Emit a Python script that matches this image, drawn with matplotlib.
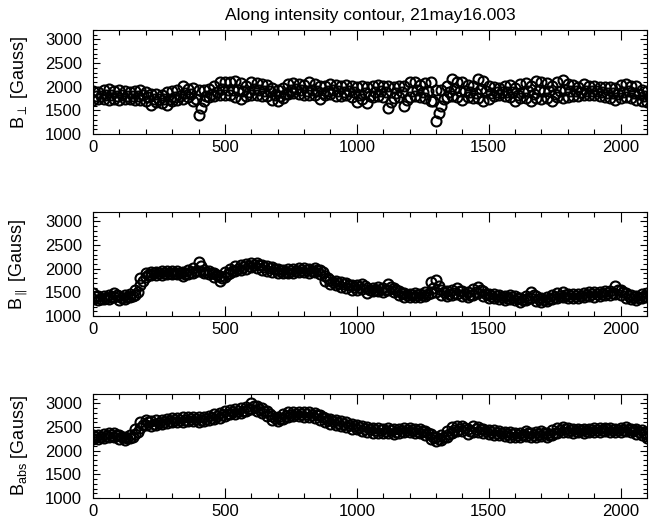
import numpy as np
import matplotlib
matplotlib.use("Agg")
import matplotlib.pyplot as plt
from matplotlib.ticker import MultipleLocator

plt.rcParams['font.family'] = ['Liberation Sans', 'DejaVu Sans']
plt.rcParams['mathtext.fontset'] = 'custom'
plt.rcParams['mathtext.rm'] = 'Liberation Sans'
plt.rcParams['mathtext.it'] = 'Liberation Sans'

title = "Along intensity contour, 21may16.003"
ylabels = [r'B$_{\perp}$ [Gauss]', r'B$_{\parallel}$ [Gauss]', r'B$_{\mathrm{abs}}$ [Gauss]']

# positions along contour (edges of band sampled every 20 points, band centre offset by 10)
pos = list(range(0, 2101, 20))
pos_mid = list(range(10, 2111, 20))

# Panel 1: B_perp  (lower / middle / upper of band)
bperp_low = [1720,1730,1740,1720,1730,1720,1740,1730,1720,1720,1700,1620,1680,1660,1620,1700,1720,1750,1780,1700,
             1400,1700,1780,1800,1820,1830,1820,1780,1750,1800,1830,1820,1800,1800,1720,1700,1760,1850,1860,1850,
             1820,1830,1830,1750,1820,1840,1810,1800,1820,1780,1680,1750,1650,1780,1800,1780,1550,1760,1780,1600,
             1780,1800,1780,1760,1700,1280,1600,1780,1800,1780,1720,1780,1760,1760,1700,1750,1800,1820,1800,1790,
             1700,1760,1760,1700,1760,1740,1760,1700,1780,1760,1780,1800,1800,1820,1820,1820,1800,1780,1760,1720,
             1760,1780,1760,1720,1700,1680]
bperp_mid = [1800,1800,1820,1830,1800,1820,1810,1800,1800,1820,1780,1740,1750,1730,1740,1780,1810,1860,1850,1750,
             1550,1800,1850,1890,1950,1940,1940,1930,1900,1890,1950,1930,1910,1900,1830,1800,1850,1930,1950,1940,
             1910,1940,1920,1860,1900,1930,1900,1890,1910,1880,1830,1870,1800,1880,1900,1880,1680,1860,1880,1720,
             1920,1940,1890,1900,1700,1450,1750,1880,1960,1920,1900,1890,1870,1950,1900,1860,1880,1880,1890,1890,
             1830,1890,1900,1840,1930,1900,1900,1850,1920,1930,1900,1900,1880,1920,1900,1900,1880,1870,1860,1840,
             1880,1900,1870,1850,1800,1780]
bperp_high = [1900,1890,1930,1950,1900,1930,1900,1890,1900,1930,1880,1850,1840,1830,1880,1900,1930,2010,1950,1970,
              1930,1930,1960,2010,2110,2090,2100,2120,2080,2010,2110,2080,2050,2030,1980,1930,1980,2050,2080,2060,
              2030,2090,2050,2010,2010,2050,2030,2010,2030,2020,2000,2020,1990,2010,2030,2020,2010,1990,2010,2020,
              2090,2110,2030,2070,2110,1930,1930,2010,2160,2090,2110,2030,2010,2170,2130,2010,1990,1980,2010,2030,
              1980,2050,2070,2010,2130,2090,2070,2020,2090,2140,2050,2030,2000,2050,2010,2010,1990,1990,1990,1980,
              2030,2050,2010,2010,1930,1910]

# Panel 2: B_parallel
bpar_low = [1360,1330,1350,1370,1400,1330,1370,1400,1450,1650,1820,1860,1860,1870,1880,1880,1880,1840,1880,1900,
            1950,1900,1880,1820,1750,1830,1920,1950,1980,2000,2030,2020,1980,1960,1940,1910,1900,1910,1920,1930,
            1930,1920,1930,1880,1750,1680,1650,1620,1600,1550,1560,1580,1490,1520,1520,1500,1560,1500,1440,1400,
            1400,1400,1400,1420,1480,1500,1450,1430,1450,1470,1420,1400,1440,1480,1420,1380,1380,1370,1340,1360,
            1330,1300,1340,1380,1320,1290,1320,1360,1380,1400,1380,1380,1380,1400,1420,1410,1430,1440,1450,1470,
            1450,1380,1360,1330,1380,1400]
bpar_mid = [1420,1370,1390,1410,1440,1380,1410,1430,1500,1730,1870,1900,1900,1910,1915,1915,1920,1885,1930,1960,
            2050,1940,1920,1860,1800,1880,1960,2000,2030,2050,2075,2070,2030,2005,1985,1955,1940,1950,1960,1970,
            1970,1960,1970,1930,1800,1725,1690,1670,1650,1605,1605,1630,1545,1560,1570,1550,1620,1550,1480,1440,
            1435,1440,1435,1460,1600,1630,1505,1475,1495,1535,1470,1450,1510,1550,1470,1425,1420,1405,1380,1400,
            1375,1345,1385,1440,1370,1335,1360,1400,1430,1450,1425,1420,1420,1440,1460,1455,1470,1480,1490,1555,
            1505,1430,1405,1380,1425,1440]
bpar_high = [1480,1420,1430,1450,1480,1430,1450,1470,1550,1800,1920,1940,1940,1950,1950,1950,1960,1930,1980,2020,
             2150,1980,1960,1900,1850,1930,2000,2050,2080,2100,2120,2120,2080,2050,2030,2000,1980,1990,2000,2010,
             2010,2000,2010,1980,1850,1770,1730,1720,1700,1660,1650,1680,1600,1600,1620,1600,1680,1600,1520,1480,
             1470,1480,1470,1500,1720,1760,1560,1520,1540,1600,1520,1500,1580,1620,1520,1470,1460,1440,1420,1440,
             1420,1390,1430,1500,1420,1380,1400,1440,1480,1500,1470,1460,1460,1480,1500,1500,1510,1520,1530,1640,
             1560,1480,1450,1430,1470,1480]

# Panel 3: B_abs
babs_low = [2240,2240,2260,2280,2280,2240,2220,2260,2350,2480,2550,2530,2540,2560,2580,2600,2600,2610,2620,2620,
            2610,2620,2640,2680,2700,2730,2770,2780,2800,2830,2880,2840,2800,2730,2640,2620,2680,2720,2730,2730,
            2720,2720,2700,2660,2600,2570,2540,2520,2500,2470,2450,2420,2400,2380,2380,2370,2380,2350,2370,2390,
            2400,2380,2380,2330,2250,2200,2230,2300,2380,2420,2420,2360,2400,2400,2370,2350,2340,2330,2310,2300,
            2280,2290,2320,2280,2300,2320,2290,2340,2380,2400,2390,2380,2390,2380,2390,2400,2400,2410,2400,2390,
            2400,2410,2390,2360,2340,2270]
babs_mid = [2290,2285,2305,2325,2325,2285,2260,2300,2400,2540,2600,2575,2590,2610,2630,2650,2650,2660,2670,2670,
            2660,2670,2690,2730,2750,2780,2820,2830,2850,2875,2940,2890,2850,2780,2690,2670,2730,2765,2775,2775,
            2770,2765,2750,2710,2650,2620,2590,2570,2550,2520,2500,2470,2450,2430,2430,2420,2430,2400,2420,2435,
            2445,2425,2425,2375,2300,2250,2280,2360,2440,2470,2475,2410,2460,2450,2415,2395,2385,2375,2355,2345,
            2325,2335,2365,2330,2350,2365,2335,2385,2430,2450,2435,2425,2430,2420,2430,2440,2440,2450,2440,2430,
            2445,2455,2430,2405,2385,2315]
babs_high = [2340,2330,2350,2370,2370,2330,2300,2340,2450,2600,2650,2620,2640,2660,2680,2700,2700,2710,2720,2720,
             2710,2720,2740,2780,2800,2830,2870,2880,2900,2920,3000,2940,2900,2830,2740,2720,2780,2810,2820,2820,
             2820,2810,2800,2760,2700,2670,2640,2620,2600,2570,2550,2520,2500,2480,2480,2470,2480,2450,2470,2480,
             2490,2470,2470,2420,2350,2300,2330,2420,2500,2520,2530,2460,2520,2500,2460,2440,2430,2420,2400,2390,
             2370,2380,2410,2380,2400,2410,2380,2430,2480,2500,2480,2470,2470,2460,2470,2480,2480,2490,2480,2470,
             2490,2500,2470,2450,2430,2360]

panels = [
    [(pos, bperp_low), (pos_mid, bperp_mid), (pos, bperp_high)],
    [(pos, bpar_low), (pos_mid, bpar_mid), (pos, bpar_high)],
    [(pos, babs_low), (pos_mid, babs_mid), (pos, babs_high)],
]

fig = plt.figure(figsize=(6.6, 5.2), dpi=100)
left, width, height = 93/660, 554/660, 104/520
bottoms = [1 - 134/520, 1 - 316/520, 1 - 498/520]

for i, (series, ylab) in enumerate(zip(panels, ylabels)):
    ax = fig.add_axes([left, bottoms[i], width, height])
    for xs, ys in series:
        ax.plot(xs, ys, 'o', mfc='none', mec='black', ms=7.2, mew=1.5, clip_on=True)
    ax.set_xlim(0, 2100)
    ax.set_ylim(1000, 3200)
    ax.xaxis.set_major_locator(MultipleLocator(500))
    ax.xaxis.set_minor_locator(MultipleLocator(100))
    ax.yaxis.set_major_locator(MultipleLocator(500))
    ax.yaxis.set_minor_locator(MultipleLocator(100))
    ax.tick_params(axis='both', which='both', direction='in', top=True, right=True,
                   labelsize=12, width=0.8)
    ax.tick_params(axis='x', which='major', length=7.2, pad=4)
    ax.tick_params(axis='x', which='minor', length=3.6)
    ax.tick_params(axis='y', which='major', length=5.0, pad=8)
    ax.tick_params(axis='y', which='minor', length=2.9)
    for sp in ax.spines.values():
        sp.set_linewidth(0.8)
    ax.set_ylabel(ylab, fontsize=13)
    ax.yaxis.set_label_coords(-0.114, 0.5)
    if i == 0:
        ax.set_title(title, fontsize=12.5, pad=7)

fig.savefig("out.png", dpi=100)
